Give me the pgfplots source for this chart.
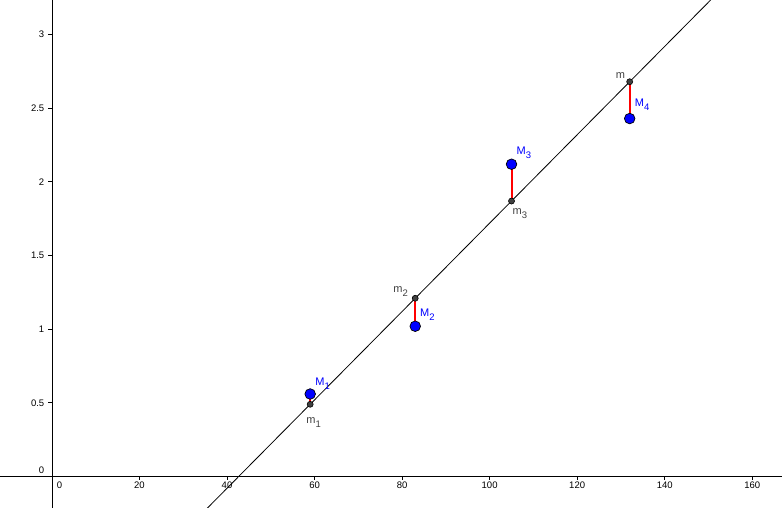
\documentclass[border=0pt]{standalone}
\usepackage{fontspec}
\setmainfont{Liberation Sans}
\usepackage{pgfplots}
\pgfplotsset{compat=1.18}
\definecolor{mgray}{RGB}{64,64,64}
\definecolor{mblue}{RGB}{0,0,255}
\definecolor{segred}{RGB}{255,0,0}
\newcommand{\lab}[2]{#1\raisebox{-4pt}{\fontsize{9.5}{10}\selectfont #2}}
\begin{document}
\begin{tikzpicture}
\begin{axis}[
 scale only axis, width=782pt, height=508pt,
 xmin=-11.87, xmax=166.8, ymin=-0.214, ymax=3.235,
 axis lines=middle, axis line style={-, line width=0.9pt, black},
 hide obscured x ticks=false, hide obscured y ticks=false,
 xtick={20,40,60,80,100,120,140,160},
 ytick={0.5,1,1.5,2,2.5,3},
 extra x ticks={0}, extra y ticks={0},
 extra x tick style={major tick length=0pt, xticklabel style={xshift=7.5pt, yshift=-3.5pt}},
 extra y tick style={major tick length=0pt, yticklabel style={yshift=6pt, xshift=-3.5pt}},
 tick align=outside, major tick length=3.5pt,
 tick style={black, line width=0.8pt},
 ticklabel style={font=\fontsize{9.5}{10}\selectfont},
 /pgf/number format/assume math mode=true,
 xticklabel style={anchor=north, inner sep=0pt, yshift=-2pt},
 yticklabel style={anchor=east, inner sep=0pt, xshift=-4pt},
 unbounded coords=jump,
]
% line through the m points
\addplot[black, line width=0.8pt] coordinates {(30,-0.38) (170,3.82)};
% residual segments
\addplot[color=segred, line width=2pt] coordinates {
 (59,0.49) (59,0.56) (59,nan)
 (83,1.21) (83,1.02) (83,nan)
 (105,1.87) (105,2.12) (105,nan)
 (132,2.68) (132,2.43)};
% points on the line
\addplot[only marks, mark=*, mark size=3pt, mark options={fill=mgray, draw=black, line width=0.6pt}] coordinates {(59,0.49) (83,1.21) (105,1.87) (132,2.68)};
% data points
\addplot[only marks, mark=*, mark size=5.3pt, mark options={fill=mblue, draw=black, line width=0.7pt}] coordinates {(59,0.56) (83,1.02) (105,2.12) (132,2.43)};
% labels
\node[anchor=base west, inner sep=0pt, text=mblue, font=\fontsize{11}{12}\selectfont] at (axis cs:59,0.56) [xshift=5pt, yshift=8.7pt] {\lab{M}{1}};
\node[anchor=base west, inner sep=0pt, text=mgray, font=\fontsize{11}{12}\selectfont] at (axis cs:59,0.49) [xshift=-4pt, yshift=-18.7pt] {\lab{m}{1}};
\node[anchor=base west, inner sep=0pt, text=mgray, font=\fontsize{11}{12}\selectfont] at (axis cs:83,1.21) [xshift=-22pt, yshift=5.4pt] {\lab{m}{2}};
\node[anchor=base west, inner sep=0pt, text=mblue, font=\fontsize{11}{12}\selectfont] at (axis cs:83,1.02) [xshift=4.7pt, yshift=10pt] {\lab{M}{2}};
\node[anchor=base west, inner sep=0pt, text=mblue, font=\fontsize{11}{12}\selectfont] at (axis cs:105,2.12) [xshift=5pt, yshift=9.7pt] {\lab{M}{3}};
\node[anchor=base west, inner sep=0pt, text=mgray, font=\fontsize{11}{12}\selectfont] at (axis cs:105,1.87) [xshift=1pt, yshift=-13.7pt] {\lab{m}{3}};
\node[anchor=base west, inner sep=0pt, text=mgray, font=\fontsize{11}{12}\selectfont] at (axis cs:132,2.68) [xshift=-14pt, yshift=3pt] {m};
\node[anchor=base west, inner sep=0pt, text=mblue, font=\fontsize{11}{12}\selectfont] at (axis cs:132,2.43) [xshift=5pt, yshift=12pt] {\lab{M}{4}};
\end{axis}
\pgfresetboundingbox
\path (current axis.south west) rectangle (current axis.north east);
\end{tikzpicture}
\end{document}
